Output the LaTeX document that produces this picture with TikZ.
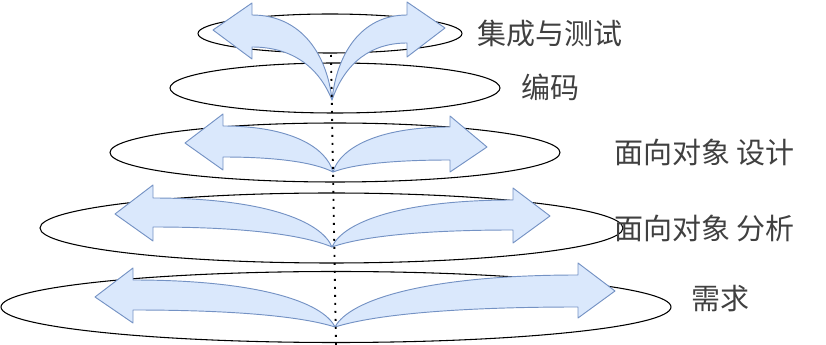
\documentclass[tikz,border=0pt]{standalone}
\usepackage{fontspec}
\newfontfamily\cjk{Noto Sans CJK SC}
\definecolor{arrfill}{RGB}{218,232,252}
\definecolor{arrline}{RGB}{116,146,196}
\definecolor{txtcol}{RGB}{64,64,64}
% #1,#2 origin; #3 head base x; #4 shaft top y; #5 shaft bottom y;
% #6 head top y; #7 head bottom y; #8,#9 tip
\newcommand\layerarrow[9]{%
  \draw[arrowband] (#1,#2)
    .. controls ({#1+0.06*(#3-#1)},{#2-0.53*(#2-#4)}) and ({#3-0.62*(#3-#1)},#4) .. (#3,#4)
    -- (#3,#6) -- (#8,#9) -- (#3,#7) -- (#3,#5)
    .. controls ({#3-0.475*(#3-#1)},#5) and ({#1+0.175*(#3-#1)},{#2-0.66*(#2-#5)}) .. cycle;}
\tikzset{
  layer/.style={draw=black, line width=0.8pt},
  arrowband/.style={draw=arrline, fill=arrfill, line width=0.7pt, line join=round},
  axisline/.style={line width=1.4pt, dash pattern=on 1.4pt off 4.6pt},
  label/.style={anchor=west, inner sep=0pt, text=txtcol, font=\cjk\fontsize{21.75pt}{26pt}\selectfont}
}
\begin{document}
\begin{tikzpicture}[x=0.75pt, y=-0.75pt]
\useasboundingbox (0,0) rectangle (826,345);
% layers
\draw[layer] (330,33.5) ellipse [x radius=132, y radius=19.5];
\draw[layer] (335,88) ellipse [x radius=165, y radius=25];
\draw[layer] (335,152.5) ellipse [x radius=225, y radius=29.5];
\draw[layer] (331.5,228) ellipse [x radius=291.5, y radius=35];
\draw[layer] (336,307) ellipse [x radius=335, y radius=35.5];
% arrows
\layerarrow{332}{100}{252}{15}{47}{3}{59}{213}{30}
\layerarrow{332}{100}{407}{15}{43}{2}{57}{445}{28}
\layerarrow{333}{172}{223}{126}{157}{114}{170}{185}{143}
\layerarrow{333}{172}{450}{127}{160}{116}{172}{487}{147}
\layerarrow{332}{247}{153}{198}{227}{185}{241}{115}{214}
\layerarrow{332}{247}{513}{200}{230}{188}{243}{550}{216}
\layerarrow{335}{327}{133}{280}{310}{268}{323}{95}{297}
\layerarrow{335}{327}{578}{275}{307}{263}{318}{615}{291}
% axis
\coordinate (axtop) at (331,55);
\coordinate (axbot) at (336,345);
\draw[axisline] (axtop) -- (axbot);
% labels
\node[label] (l1) at (477,33.5) {集成与测试};
\node[label] (l2) at (521,87.5) {编码};
\node[label] (l3) at (614,152.5) {面向对象 设计};
\node[label] (l4) at (614,228.5) {面向对象 分析};
\node[label] (l5) at (691,298.5) {需求};
\end{tikzpicture}
\end{document}
